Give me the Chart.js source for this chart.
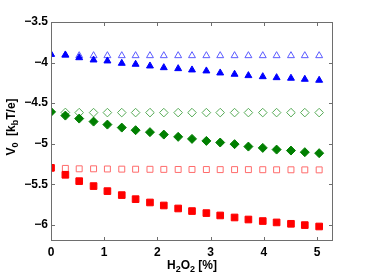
<!DOCTYPE html>
<html><head><meta charset="utf-8">
<script src="https://cdn.jsdelivr.net/npm/chart.js@4/dist/chart.umd.min.js"></script>
<style>html,body{margin:0;padding:0;background:#fff}#wrap{width:369px;height:278px}</style>
</head><body><div id="wrap"><canvas id="c" width="369" height="278"></canvas></div>
<script>
const h2o2 = [0, 0.27, 0.53, 0.8, 1.06, 1.33, 1.59, 1.86, 2.12, 2.39, 2.65, 2.92, 3.18, 3.45, 3.71, 3.98, 4.24, 4.51, 4.77, 5.04];
const triFilled = [-3.898, -3.906, -3.94, -3.968, -3.98, -4.009, -4.021, -4.042, -4.063, -4.075, -4.091, -4.103, -4.128, -4.144, -4.161, -4.174, -4.186, -4.193, -4.206, -4.218];
const triOpen = [-3.90, -3.91, -3.915, -3.915, -3.915, -3.915, -3.915, -3.915, -3.915, -3.915, -3.915, -3.915, -3.915, -3.915, -3.915, -3.915, -3.915, -3.915, -3.915, -3.915];
const diaFilled = [-4.608, -4.654, -4.691, -4.728, -4.765, -4.802, -4.834, -4.858, -4.888, -4.916, -4.941, -4.966, -4.986, -5.006, -5.036, -5.052, -5.073, -5.085, -5.105, -5.117];
const diaOpen = [-4.61, -4.615, -4.617, -4.617, -4.617, -4.617, -4.617, -4.617, -4.617, -4.617, -4.617, -4.617, -4.617, -4.617, -4.617, -4.617, -4.617, -4.617, -4.617, -4.617];
const sqFilled = [-5.298, -5.384, -5.462, -5.523, -5.585, -5.634, -5.684, -5.725, -5.762, -5.799, -5.831, -5.856, -5.885, -5.910, -5.935, -5.954, -5.971, -5.988, -6.004, -6.021];
const sqOpen = [-5.30, -5.305, -5.31, -5.31, -5.312, -5.314, -5.315, -5.316, -5.317, -5.318, -5.318, -5.319, -5.32, -5.32, -5.32, -5.321, -5.322, -5.322, -5.323, -5.323];
const xTicks = [0, 1, 2, 3, 4, 5];
const yTicks = [-6, -5.5, -5, -4.5, -4, -3.5];
const xLabel = ['H', '2', 'O', '2', ' [%]'];
const yLabel = ['V', '0', '  [k', 'b', 'T/e]'];

const pts = ys => h2o2.map((x, i) => ({x: x, y: ys[i]}));
const FONT = 'Liberation Sans, Arial, Helvetica, sans-serif';

function ds(data, style, r, fill, stroke, bw) {
  return {data: pts(data), pointStyle: style, pointRadius: r, pointHoverRadius: r,
    backgroundColor: fill, borderColor: stroke, pointBorderWidth: bw, showLine: false};
}

const frame = {
  id: 'frame',
  afterDraw(chart) {
    const ctx = chart.ctx, a = chart.chartArea, xs = chart.scales.x, ys = chart.scales.y;
    ctx.save();
    ctx.strokeStyle = '#6e6e6e';
    ctx.lineWidth = 1;
    ctx.strokeRect(a.left + 0.5, a.top + 0.5, a.right - a.left - 1, a.bottom - a.top - 1);
    ctx.beginPath();
    const L = 4;
    xTicks.forEach(t => {
      const px = Math.round(xs.getPixelForValue(t)) + 0.5;
      ctx.moveTo(px, a.bottom); ctx.lineTo(px, a.bottom - L);
      ctx.moveTo(px, a.top); ctx.lineTo(px, a.top + L);
    });
    yTicks.forEach(t => {
      const py = Math.round(ys.getPixelForValue(t)) + 0.5;
      ctx.moveTo(a.left, py); ctx.lineTo(a.left + L, py);
      ctx.moveTo(a.right, py); ctx.lineTo(a.right - L, py);
    });
    ctx.stroke();
    ctx.fillStyle = '#000';
    function drawParts(parts, cx, cy) {
      const big = 'bold 12px ' + FONT, small = 'bold 9px ' + FONT;
      let total = 0;
      parts.forEach((p, i) => { ctx.font = (i % 2 === 1) ? small : big; total += ctx.measureText(p).width; });
      let x = cx - total / 2;
      ctx.textBaseline = 'alphabetic';
      ctx.textAlign = 'left';
      parts.forEach((p, i) => {
        const sub = i % 2 === 1;
        ctx.font = sub ? small : big;
        ctx.fillText(p, x, cy + (sub ? 3 : 0));
        x += ctx.measureText(p).width;
      });
    }
    drawParts(xLabel, (a.left + a.right) / 2, 269);
    ctx.save();
    ctx.translate(15, 127);
    ctx.rotate(-Math.PI / 2);
    drawParts(yLabel, 0, 0);
    ctx.restore();
    ctx.restore();
  }
};

new Chart(document.getElementById('c'), {
  type: 'scatter',
  data: {datasets: [
    ds(triFilled, 'triangle', 4, '#0000ff', '#0000ff', 1),
    ds(diaFilled, 'rectRot', 4.5, '#007f00', '#007f00', 1),
    ds(sqFilled, 'rect', 4.7, '#ff0000', '#ff0000', 1),
    ds(triOpen, 'triangle', 4, 'rgba(255,255,255,0)', '#5b5bff', 1),
    ds(diaOpen, 'rectRot', 4.3, 'rgba(255,255,255,0)', '#55aa55', 1),
    ds(sqOpen, 'rect', 4.2, 'rgba(255,255,255,0)', '#ff6b6b', 1)
  ]},
  options: {
    responsive: false, animation: false, events: [],
    layout: {padding: {top: 22, right: 36, left: 0, bottom: 0}},
    plugins: {legend: {display: false}, tooltip: {enabled: false}},
    scales: {
      x: {type: 'linear', min: 0, max: 5.3,
        afterBuildTicks: s => { s.ticks = xTicks.map(v => ({value: v})); },
        afterFit: s => { s.height = 37; },
        grid: {display: false, drawTicks: false}, border: {display: false},
        ticks: {padding: 4, color: '#000', font: {family: FONT, size: 12, weight: 'bold'},
          callback: v => String(v)}
      },
      y: {type: 'linear', min: -6.2, max: -3.5,
        afterBuildTicks: s => { s.ticks = yTicks.map(v => ({value: v})); },
        afterFit: s => { s.width = 51; },
        grid: {display: false, drawTicks: false}, border: {display: false},
        ticks: {padding: 3, color: '#000', font: {family: FONT, size: 12, weight: 'bold'},
          callback: v => String(v).replace('-', '\u2212')}
      }
    }
  },
  plugins: [frame]
});
</script></body></html>
